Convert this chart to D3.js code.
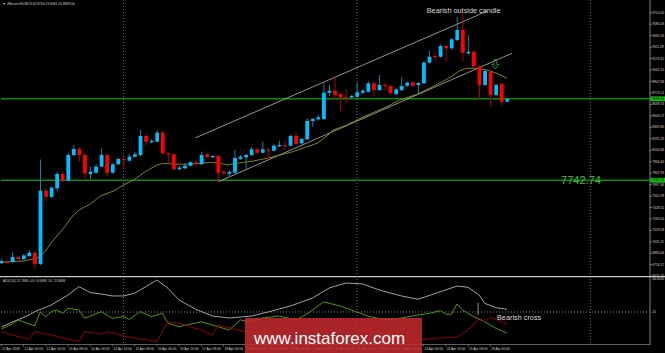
<!DOCTYPE html>
<html><head><meta charset="utf-8">
<script src="https://cdn.jsdelivr.net/npm/d3@7"></script>
<style>html,body{margin:0;padding:0;background:#000;overflow:hidden}</style>
</head><body><svg id="c" width="665" height="353"></svg>
<script>
// ---------- DATA ----------
const symbolTitle = "#Bitcoin,H4 8674.64 8704.13 8661.20 8699.00";
const indTitle = "ADX(14) 21.7680 +DI: 6.0088 -DI: 11.8484";
const timeLabels = ["11 Apr 2018","12 Apr 00:00","12 Apr 16:00","13 Apr 08:00","14 Apr 00:00","14 Apr 16:00","15 Apr 08:00","16 Apr 00:00","16 Apr 16:00","17 Apr 08:00","18 Apr 00:00","18 Apr 16:00","19 Apr 08:00","20 Apr 00:00","20 Apr 16:00","21 Apr 08:00","22 Apr 00:00","22 Apr 16:00","23 Apr 08:00","24 Apr 00:00","24 Apr 16:00","25 Apr 08:00","26 Apr 00:00"];
const timeLabelBars = [0,4,8,12,16,20,24,28,32,36,40,44,48,52,56,60,64,68,72,76,80,84,88];
const weekSeparatorBars = [22,64,106];
const priceTicks = [9714.50,9580.03,9445.56,9311.09,9176.62,9042.15,8907.68,8773.21,8638.74,8504.27,8369.80,8235.33,8100.86,7966.40,7831.93,7697.46,7562.99,7428.52,7294.05,7159.58,7025.11,6890.64,6756.17,6621.70];
const open  = [6771,6794,6782,6841,6818,6853,6892,6759,7620,7549,7648,7816,7737,8039,8109,8039,7816,7831,7902,8039,7831,7930,7992,7972,8019,8039,8262,8195,8195,8301,8059,8047,7874,7883,7913,7953,7930,8047,8012,8027,7843,7819,7831,7995,8012,8039,8106,8066,8106,8089,8145,8156,8148,8262,8176,8223,8438,8458,8462,8770,8794,8755,8716,8716,8723,8770,8782,8881,8802,8861,8849,8755,8802,8853,8892,8861,8881,9123,9201,9193,9319,9292,9389,9507,9233,9252,9076,8861,9017,8743,8873,8665];
const high  = [6818,6806,6900,6853,6876,6923,6912,7986,7640,7675,7839,7843,8062,8156,8121,8062,7902,7933,8118,8051,7945,8004,8039,8051,8074,8332,8285,8227,8332,8327,8068,8056,7910,7945,7968,7963,8078,8062,8039,8039,7857,7857,8098,8039,8056,8133,8121,8195,8115,8168,8207,8215,8280,8301,8238,8470,8473,8509,8881,8861,8958,8767,8810,8743,8888,8814,8902,8896,8978,8900,8861,8826,8951,8902,8902,8896,9143,9264,9252,9336,9331,9413,9663,9703,9448,9266,9090,9049,9031,8878,8890,8702];
const low   = [6759,6759,6771,6806,6806,6841,6700,6747,7490,7534,7616,7722,7734,8027,7960,7765,7757,7816,7898,7784,7822,7922,7883,7963,8010,8027,8156,8180,8186,8045,7941,7863,7857,7874,7904,7916,7922,8004,8004,7725,7810,7792,7816,7980,7863,8027,8051,8056,7980,8080,8133,8098,8139,8156,8162,8215,8371,8444,8450,8732,8685,8555,8646,8702,8714,8755,8773,8723,8790,8794,8755,8743,8790,8837,8837,8767,8873,9113,9143,9184,9134,9278,9377,9134,9219,9072,8696,8849,8606,8732,8626,8661];
const close = [6794,6777,6841,6818,6859,6892,6759,7620,7549,7655,7816,7737,8039,8109,8039,7824,7843,7902,8039,7831,7930,7992,7980,8019,8047,8262,8195,8203,8301,8059,8047,7874,7890,7913,7953,7930,8039,8015,8027,7831,7824,7839,8004,8019,8039,8106,8066,8106,8098,8148,8156,8148,8262,8168,8227,8438,8462,8482,8770,8794,8743,8716,8708,8732,8775,8794,8881,8802,8861,8853,8763,8810,8849,8888,8853,8884,9123,9193,9186,9319,9292,9397,9507,9240,9252,9084,8861,9025,8743,8861,8665,8699];
const maBars = [0,4,6.4,7.6,9.4,11.2,12.7,14,16,17.9,20.2,22,23.8,25.9,28,29.2,31,33.4,35.8,37.6,39.4,40.6,43,45.3,47.8,50.2,52.5,55,56.8,58.6,59.7,62.2,64.6,66.9,69.4,71.7,74.8,77.7,80.8,82.5,83.7,85.5,87.4,89.2,91];
const maVals = [6779,6794,6826,6885,7041,7178,7314,7393,7463,7561,7616,7687,7745,7843,7921,7941,7933,7930,7941,7953,7941,7922,7948,7968,8000,8039,8078,8136,8176,8262,8332,8391,8470,8536,8606,8685,8752,8843,8951,9029,9057,9057,9037,8998,8940];
const channelUpper = [[34.9,8239],[87.4,9728]];
const channelLower = [[39.05,7725],[91.9,9233]];
const levels = [8699.00, 7742.74];
const adxBars = [0,2,5,6,9,12,14,16,18,20,22,24,26,28,30,32,35,38,41,45,48,52,56,59,62,65,68,72,75,79,82,84,86,87,89,91];
const adxVals = [10,13.3,18,20.2,24.7,31.3,36.9,32.9,32,30.7,30.7,32.5,36.9,41.3,35.8,28,21.8,17.3,16,17.3,20,24,29.3,36,39.3,38.7,34.7,30.7,28.5,33.5,37.3,36.5,31.3,25.8,22.9,21.8];
const pdiBars = [0,2,3,5,6,7,8,9,10,11,12,14,15,18,20,22,23,25,27,29,30,32,36,39,41,43,45,47,50,53,55,58,61,64,66,69,72,75,77,79,80,81,82,83,85,87,89,91];
const pdiVals = [8.7,12,14.7,12,10.7,20,16.9,20.2,21.3,19.1,22.5,21.3,15.8,20.2,15.8,16.9,15.1,20.2,16.9,19.1,12.5,10.2,13.5,10.2,8,14.7,13.3,16,17.3,14.7,18.7,26.7,24,20,17.3,14.7,16,18,19.1,20.9,18.5,18.5,25.3,21.3,16.9,13.5,9.1,6];
const mdiBars = [0,2,5,6,7,9,11,14,15,18,19,23,28,30,32,34,36,38,39,42,44,47,50,54,57,61,64,65,68,72,75,79,82,84,86,87,88,90,91];
const mdiVals = [6.9,4.7,1.8,6.9,6,4.7,2.7,0.4,6.9,5.3,6.9,3.3,0.3,13.5,12.5,10.2,8,4.7,11.3,8.5,6.9,6,3.3,1.3,0.5,1.3,4,8,6,4,1.3,2.7,3.3,8,15.8,13.5,16.5,13.5,11.8];

// ---------- LAYOUT ----------
const svg = d3.select('#c');
const plotR = 650;
const x = d3.scaleLinear().domain([0, 100]).range([1.3, 1.3 + 100 * 5.557]);
const y = d3.scaleLinear().domain([6621.70, 9714.50]).range([275.7, 12.3]);
const yi = d3.scaleLinear().domain([0, 44]).range([342, 276]);
const font = "'Liberation Sans', Arial, sans-serif";
const small = "'Liberation Sans', Arial, sans-serif";
const fs = 3.3;

svg.append('rect').attr('width', 665).attr('height', 353).attr('fill', '#000');

// week separators
svg.append('g').selectAll('line').data(weekSeparatorBars).join('line')
  .attr('x1', d => x(d)).attr('x2', d => x(d)).attr('y1', 0).attr('y2', 344)
  .attr('stroke', '#8a8a8a').attr('stroke-width', 0.8).attr('stroke-dasharray', '1,2');

// level lines
svg.append('g').selectAll('line').data(levels).join('line')
  .attr('x1', 1).attr('x2', plotR).attr('y1', d => y(d)).attr('y2', d => y(d))
  .attr('stroke', '#0b8a0b').attr('stroke-width', 1.6);

// channel
[channelUpper, channelLower].forEach(c => {
  svg.append('line').attr('x1', x(c[0][0])).attr('y1', y(c[0][1]))
    .attr('x2', x(c[1][0])).attr('y2', y(c[1][1]))
    .attr('stroke', '#b8b8b8').attr('stroke-width', 0.8);
});

// moving average
svg.append('path').datum(maBars.map((b, i) => [b, maVals[i]]))
  .attr('d', d3.line().x(d => x(d[0])).y(d => y(d[1])))
  .attr('fill', 'none').attr('stroke', '#8f8f1a').attr('stroke-width', 0.9);

// candles
const bars = open.map((o, i) => ({i, o, h: high[i], l: low[i], c: close[i]}));
const bull = '#00bfff', bear = '#ff0000';
const cg = svg.append('g');
cg.selectAll('line').data(bars).join('line')
  .attr('x1', d => x(d.i) + 0.3).attr('x2', d => x(d.i) + 0.3)
  .attr('y1', d => y(d.h)).attr('y2', d => y(d.l))
  .attr('stroke', d => d.c >= d.o ? '#1b8fbf' : '#c00000').attr('stroke-width', 0.9);
cg.selectAll('rect').data(bars).join('rect')
  .attr('x', d => x(d.i) - 1.6).attr('width', 3.8)
  .attr('y', d => y(Math.max(d.o, d.c)))
  .attr('height', d => Math.max(1.2, Math.abs(y(d.o) - y(d.c))))
  .attr('fill', d => d.c >= d.o ? bull : bear);

// annotations
svg.append('text').attr('x', x(83.2)).attr('y', y(9712)).attr('text-anchor', 'middle')
  .attr('font-family', font).attr('font-size', 7.3).attr('fill', '#d8d8d8').text('Bearish outside candle');
const ax = x(88.9), ay = y(9160);
svg.append('path').attr('d', `M${ax-1.4},${ay} h2.8 v5 h2 l-3.4,4.4 l-3.4,-4.4 h2 z`)
  .attr('fill', 'none').attr('stroke', '#2aa82a').attr('stroke-width', 0.8);
svg.append('text').attr('x', 581).attr('y', y(levels[1]) + 4).attr('text-anchor', 'middle')
  .attr('font-family', font).attr('font-size', 11).attr('fill', '#3cc23c').text(levels[1].toFixed(2));

// right axis
svg.append('line').attr('x1', plotR).attr('x2', plotR).attr('y1', 0).attr('y2', 345)
  .attr('stroke', '#a0a0a0').attr('stroke-width', 0.8);
const ya = svg.append('g').attr('transform', `translate(${plotR},0)`)
  .call(d3.axisRight(y).tickValues(priceTicks).tickSize(1.5).tickFormat(d3.format('.2f')));
ya.select('.domain').remove();
ya.selectAll('line').attr('stroke', '#a0a0a0');
ya.selectAll('text').attr('font-family', small).attr('font-size', fs).attr('fill', '#d0d0d0').attr('x', 2.2);
levels.forEach(v => {
  svg.append('rect').attr('x', plotR + 0.5).attr('y', y(v) - 2.4).attr('width', 14.5).attr('height', 4.8).attr('fill', '#18c018');
  svg.append('text').attr('x', plotR + 2.2).attr('y', y(v) + 1.2).attr('font-family', small).attr('font-size', fs)
    .attr('fill', '#000').text(v.toFixed(2));
});

// header
svg.append('text').attr('x', 2.5).attr('y', 4.5).attr('font-family', small).attr('font-size', fs).attr('fill', '#d0d0d0').text('▼ ' + symbolTitle);

// panel separator
svg.append('line').attr('x1', 0).attr('x2', 665).attr('y1', 276.6).attr('y2', 276.6).attr('stroke', '#c8c8c8').attr('stroke-width', 1.3);

// indicator
svg.append('text').attr('x', 3).attr('y', 281.5).attr('font-family', small).attr('font-size', fs).attr('fill', '#d0d0d0').text(indTitle);
svg.append('line').attr('x1', 1).attr('x2', plotR).attr('y1', yi(20)).attr('y2', yi(20))
  .attr('stroke', '#a0a0a0').attr('stroke-width', 0.8).attr('stroke-dasharray', '1,2');
const il = d3.line().x(d => x(d[0])).y(d => yi(d[1]));
[[adxBars, adxVals, '#b4b4b4'], [pdiBars, pdiVals, '#58a800'], [mdiBars, mdiVals, '#a00000']].forEach(([b, v, col]) => {
  svg.append('path').datum(b.map((bb, k) => [bb, v[k]])).attr('d', il)
    .attr('fill', 'none').attr('stroke', col).attr('stroke-width', 0.9);
});
svg.append('text').attr('x', plotR + 2.2).attr('y', 280).attr('font-family', small).attr('font-size', fs).attr('fill', '#d0d0d0').text('44.0000');
svg.append('text').attr('x', plotR + 2.2).attr('y', yi(20) + 1.2).attr('font-family', small).attr('font-size', fs).attr('fill', '#d0d0d0').text('20');

svg.append('line').attr('x1', x(85.8)).attr('x2', x(85.8)).attr('y1', 302.7).attr('y2', 315).attr('stroke', '#b8b8b8').attr('stroke-width', 0.8);
svg.append('text').attr('x', 497).attr('y', 319.5).attr('font-family', font).attr('font-size', 7.3).attr('fill', '#d8d8d8').text('Bearish cross');

// time axis
svg.append('line').attr('x1', 0).attr('x2', plotR).attr('y1', 344.5).attr('y2', 344.5).attr('stroke', '#a0a0a0').attr('stroke-width', 0.6);
const tg = svg.append('g').selectAll('g').data(timeLabelBars).join('g');
tg.append('line').attr('x1', d => x(d)).attr('x2', d => x(d)).attr('y1', 344.5).attr('y2', 346.5).attr('stroke', '#a0a0a0').attr('stroke-width', 0.6);
tg.append('text').attr('x', d => x(d) + 0.8).attr('y', 350).attr('font-family', small).attr('font-size', fs).attr('fill', '#d0d0d0')
  .text((d, k) => timeLabels[k]);

// watermark
svg.append('rect').attr('x', 245).attr('y', 318).attr('width', 177).attr('height', 35).attr('fill', '#c62a2e').attr('opacity', 0.85);
svg.append('text').attr('x', 254).attr('y', 343.5).attr('font-family', "'Liberation Sans', Arial, sans-serif").attr('font-size', 17).attr('fill', '#fff').text('www.instaforex.com');
</script></body></html>
